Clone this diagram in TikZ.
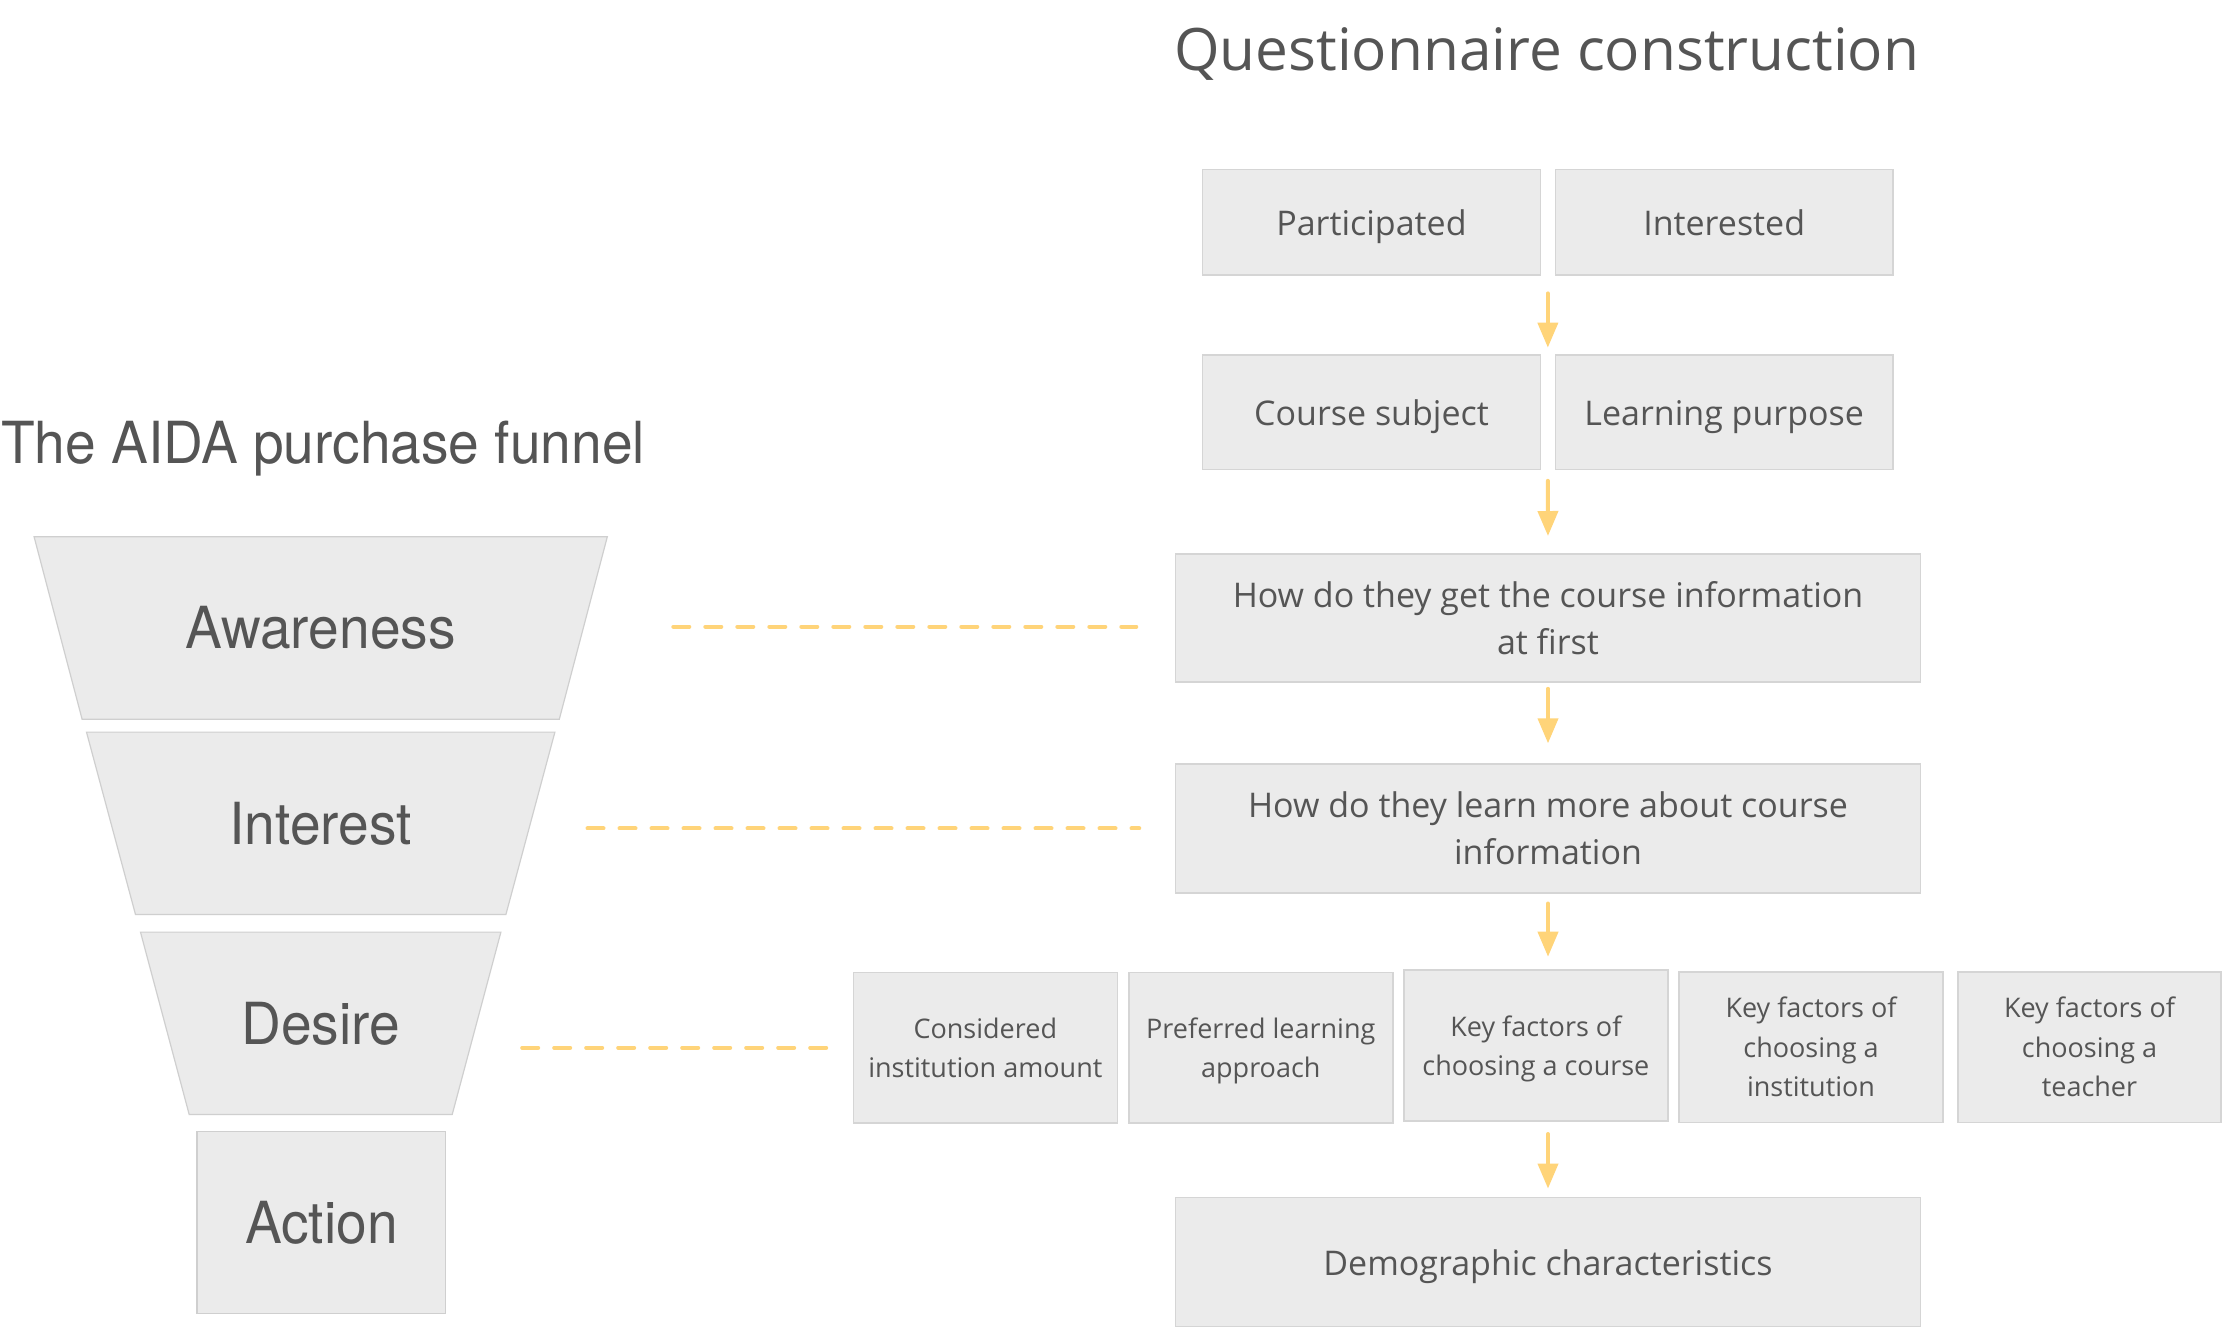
\documentclass[tikz,border=0pt]{standalone}
\usepackage{fontspec}
\usetikzlibrary{arrows.meta,calc,backgrounds}
\newfontfamily\lfont[FakeStretch=0.95]{TeX Gyre Heros}
\newfontfamily\rfont{Open Sans}
\definecolor{txt}{HTML}{555555}
\definecolor{boxfill}{HTML}{EBEBEB}
\definecolor{boxline}{HTML}{D5D5D5}
\definecolor{funnelline}{HTML}{CFCFCF}
\definecolor{accent}{HTML}{FFD479}
\begin{document}
\begin{tikzpicture}[x=1pt,y=-1pt,
  qbox/.style={draw=boxline, fill=boxfill, line width=1.5pt, inner sep=0pt, align=center, text=txt,
    font=\rfont\fontsize{34}{47.3}\selectfont},
  oneline/.style={text height=34pt, text depth=7pt},
  sbox/.style={qbox, minimum width=264pt, minimum height=150.7pt, font=\rfont\fontsize{27}{39.5}\selectfont},
  flabel/.style={inner sep=0pt, text=txt, font=\lfont\fontsize{58}{60}\selectfont},
  fshape/.style={draw=funnelline, fill=boxfill, line width=1.2pt},
  flow/.style={draw=accent, line width=4pt, line cap=round, -{Triangle[width=20pt,length=25pt]}},
  link/.style={draw=accent, line width=4pt, line cap=round, dash pattern=on 16pt off 16pt},
]
\useasboundingbox (0,0) rectangle (2222,1328);

% titles
\node[anchor=base, inner sep=0pt, text=txt, font=\rfont\fontsize{58.5}{60}\selectfont] (qtitle) at (1546.7,70) {Questionnaire construction};
\node[anchor=base west, inner sep=0pt, text=txt, font=\lfont\fontsize{58}{60}\selectfont] (ftitle) at (1,463.3) {The AIDA purchase funnel};

% funnel
\node[flabel, minimum width=572.8pt, minimum height=182pt] (aw) at (320.7,628) {Awareness};
\node[flabel, minimum width=468pt, minimum height=182pt] (it) at (320.7,823.3) {Interest};
\node[flabel, minimum width=360pt, minimum height=182pt] (de) at (320.7,1023.3) {Desire};
\node[flabel, fshape, minimum width=248.7pt, minimum height=182pt] (ac) at (321.3,1222.3) {Action};
\begin{scope}[on background layer]
  \fill[white] (0,0) rectangle (2222,1328);
  \path[fshape] (aw.north west) -- (aw.north east) -- ([xshift=-48pt]aw.south east) -- ([xshift=48pt]aw.south west) -- cycle;
  \path[fshape] (it.north west) -- (it.north east) -- ([xshift=-49pt]it.south east) -- ([xshift=49pt]it.south west) -- cycle;
  \path[fshape] (de.north west) -- (de.north east) -- ([xshift=-48.7pt]de.south east) -- ([xshift=48.7pt]de.south west) -- cycle;
\end{scope}

% questionnaire boxes
\node[qbox, oneline, minimum width=337.6pt, minimum height=105.3pt] (part) at (1371.5,222.3) {Participated};
\node[qbox, oneline, minimum width=337.6pt, minimum height=105.3pt] (inter) at (1724.2,222.3) {Interested};
\node[qbox, oneline, minimum width=337.6pt, minimum height=114.3pt] (subj) at (1371.5,412.2) {Course subject};
\node[qbox, oneline, minimum width=337.6pt, minimum height=114.3pt] (purp) at (1724.2,412.2) {Learning purpose};
\node[qbox, minimum width=744.6pt, minimum height=127.7pt] (info1) at (1548,617.9) {How do they get the course information\\at first};
\node[qbox, minimum width=744.6pt, minimum height=128.7pt] (info2) at (1548,828.4) {How do they learn more about course\\information};
\node[sbox] (r1) at (985.3,1047.7) {Considered\\institution amount};
\node[sbox] (r2) at (1260.8,1047.7) {Preferred learning\\\smash{approach}};
\node[sbox] (r3) at (1535.9,1045.5) {Key factors of\\\smash{choosing a course}};
\node[sbox] (r4) at (1811,1047.2) {Key factors of\\choosing a\\institution};
\node[sbox, minimum width=263pt] (r5) at (2089.5,1047.2) {Key factors of\\choosing a\\teacher};
\node[qbox, oneline, minimum width=744.6pt, minimum height=129pt] (demo) at (1548,1262.2) {Demographic characteristics};

% flow arrows
\draw[flow, shorten <=17.7pt, shorten >=6.7pt] ($(part.south east)!0.5!(inter.south west)$) -- ($(subj.north east)!0.5!(purp.north west)$);
\draw[flow, shorten <=10.7pt, shorten >=17.3pt] ($(subj.south east)!0.5!(purp.south west)$) -- (info1.north);
\draw[flow, shorten <=6.3pt, shorten >=20pt] (info1.south) -- (info2.north);
\draw[flow, shorten <=10pt, shorten >=12.7pt] (info2.south) -- (info2.south |- r3.north);
\draw[flow, shorten <=12.4pt, shorten >=8.4pt] (demo.north |- r3.south) -- (demo.north);

% dashed links
\draw[link] ($(aw.east)+(66,-1.3)$) -- ($(aw.east -| info1.west)+(-38.7,-1.3)$);
\draw[link] ($(it.east |- info2.west)+(32.6,0)$) -- ($(info2.west)+(-35.7,0)$);
\draw[link] ($(de.east |- r1.west)+(21.3,0)$) -- ($(r1.west)+(-26.3,0)$);
\end{tikzpicture}
\end{document}
